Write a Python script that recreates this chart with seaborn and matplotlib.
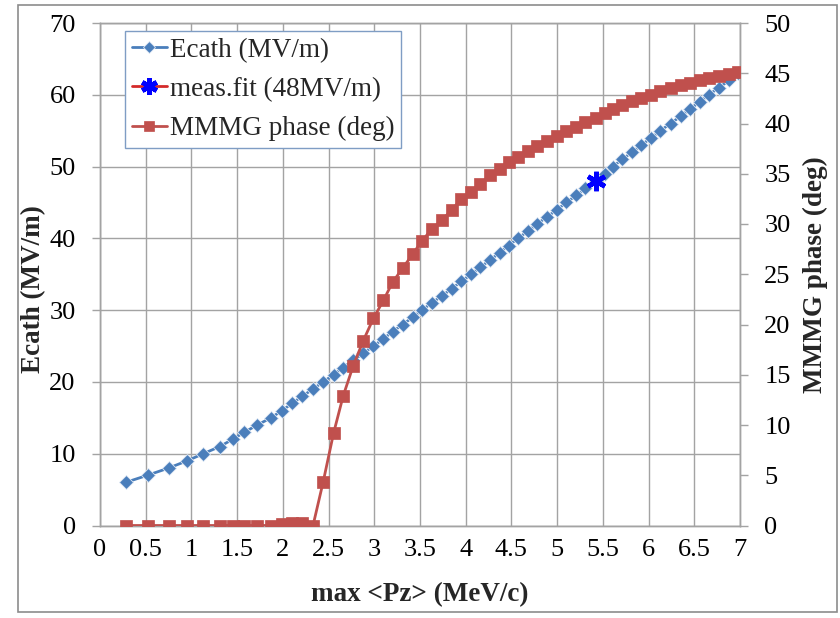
import matplotlib
matplotlib.use("Agg")
import matplotlib.pyplot as plt
import seaborn as sns
import pandas as pd
from matplotlib.patches import Rectangle

# ---- data ----
pz = [0.28, 0.52, 0.75, 0.95, 1.13, 1.31, 1.45, 1.58, 1.72, 1.87,
      1.99, 2.10, 2.21, 2.33, 2.44, 2.555, 2.66, 2.77, 2.88, 2.99,
      3.10, 3.20, 3.31, 3.42, 3.52, 3.63, 3.74, 3.85, 3.95, 4.06,
      4.16, 4.27, 4.37, 4.47, 4.57, 4.68, 4.78, 4.89, 5.00, 5.10,
      5.21, 5.31, 5.42, 5.52, 5.61, 5.71, 5.82, 5.92, 6.03, 6.13,
      6.24, 6.35, 6.45, 6.56, 6.66, 6.77, 6.88, 6.98]
ecath = [6, 7, 8, 9, 10, 11, 12, 13, 14, 15,
         16, 17, 18, 19, 20, 21, 22, 23, 24, 25,
         26, 27, 28, 29, 30, 31, 32, 33, 34, 35,
         36, 37, 38, 39, 40, 41, 42, 43, 44, 45,
         46, 47, 48, 49, 50, 51, 52, 53, 54, 55,
         56, 57, 58, 59, 60, 61, 62, 63]
phase = [0, 0, 0, 0, 0, 0, 0, 0, 0, 0,
         0.1, 0.2, 0.2, 0, 4.3, 9.2, 12.9, 15.9, 18.4, 20.6,
         22.4, 24.2, 25.6, 27.0, 28.3, 29.5, 30.4, 31.4, 32.5, 33.2,
         34.0, 34.9, 35.5, 36.2, 36.7, 37.3, 37.8, 38.3, 38.8, 39.3,
         39.7, 40.1, 40.5, 41.0, 41.4, 41.8, 42.2, 42.5, 42.8, 43.2,
         43.5, 43.8, 44.0, 44.3, 44.5, 44.7, 44.9, 45.1]
fit_pz = [5.43]
fit_ecath = [48]

x_ticks = [0, 0.5, 1, 1.5, 2, 2.5, 3, 3.5, 4, 4.5, 5, 5.5, 6, 6.5, 7]
x_ticklabels = ["0", "0.5", "1", "1.5", "2", "2.5", "3", "3.5", "4", "4.5",
                "5", "5.5", "6", "6.5", "7"]
left_ticks = [0, 10, 20, 30, 40, 50, 60, 70]
right_ticks = [0, 5, 10, 15, 20, 25, 30, 35, 40, 45, 50]

lbl_ecath = "Ecath (MV/m)"
lbl_fit = "meas.fit (48MV/m)"
lbl_phase = "MMMG phase (deg)"

df = pd.DataFrame({"pz": pz, "ecath": ecath, "phase": phase})
df_fit = pd.DataFrame({"pz": fit_pz, "ecath": fit_ecath})

# ---- style ----
sns.set_style("white")
plt.rcParams["font.family"] = ["Liberation Serif", "DejaVu Serif"]

BLUE = "#4a7ebb"
RED = "#c0504d"
FITRED = "#d42a2a"
GRID = "#a3a3a3"
TFS = 19
LFS = 19.5

W, H = 840, 618
fig = plt.figure(figsize=(W / 100, H / 100), dpi=100)
ax_l, ax_r, ax_t, ax_b = 100, 740, 23, 525.5
ax = fig.add_axes([ax_l / W, 1 - ax_b / H, (ax_r - ax_l) / W, (ax_b - ax_t) / H])
ax2 = ax.twinx()

sns.lineplot(data=df, x="pz", y="ecath", ax=ax, color=BLUE, lw=2.0,
             marker="D", markersize=7.2, markeredgecolor="#dfe8f4",
             markeredgewidth=0.6, estimator=None, sort=False,
             label=lbl_ecath, legend=False, zorder=3)
sns.lineplot(data=df_fit, x="pz", y="ecath", ax=ax, color=FITRED, lw=2.0,
             marker=(6, 2, 0), markersize=14, markeredgecolor="#0000ff",
             markerfacecolor="#0000ff", markeredgewidth=3.4,
             estimator=None, label=lbl_fit, legend=False, zorder=4)
sns.lineplot(data=df, x="pz", y="phase", ax=ax2, color=RED, lw=2.0,
             marker="s", markersize=8.6, markeredgecolor=RED,
             markeredgewidth=0.5, estimator=None, sort=False,
             label=lbl_phase, legend=False, zorder=3)

ax.set_xlim(0, 7)
ax.set_ylim(0, 70)
ax2.set_ylim(0, 50)
ax.set_xticks(x_ticks)
ax.set_xticklabels(x_ticklabels)
ax.set_yticks(left_ticks)
ax2.set_yticks(right_ticks)

ax.grid(True, color=GRID, lw=1.0)
ax.set_axisbelow(True)
ax2.grid(False)

for a in (ax, ax2):
    for s in a.spines.values():
        s.set_color(GRID)
        s.set_linewidth(1.0)
    a.tick_params(axis="both", which="major", labelsize=TFS, colors="black",
                  length=5.5, width=1.0, direction="out")
    a.tick_params(axis="both", color=GRID)
ax.tick_params(axis="y", pad=12)
ax.tick_params(axis="x", pad=4)
ax2.tick_params(axis="y", pad=12)

ax.set_xlabel("max <Pz> (MeV/c)", fontsize=LFS, fontweight="bold")
ax.set_ylabel(lbl_ecath, fontsize=LFS, fontweight="bold")
ax2.set_ylabel(lbl_phase, fontsize=LFS, fontweight="bold")
ax.xaxis.set_label_coords(0.5, -0.112)
ax.yaxis.set_label_coords(-0.084, 0.47)
ax2.yaxis.set_label_coords(1.098, 0.50)

# ---- legend ----
h1, l1 = ax.get_legend_handles_labels()
h2, l2 = ax2.get_legend_handles_labels()
leg = ax2.legend(h1 + h2, l1 + l2, loc="upper left",
                 bbox_to_anchor=(125 / W, 1 - 31 / H),
                 bbox_transform=fig.transFigure, borderaxespad=0,
                 fontsize=LFS, frameon=True, fancybox=False, framealpha=1,
                 edgecolor="#7f9dc4", handlelength=1.3, handletextpad=0.1,
                 labelspacing=0.52, borderpad=0.25, markerscale=0.85)
leg.get_frame().set_linewidth(1.0)

# ---- outer border ----
fig.patches.append(Rectangle((18 / W, 1 - 612 / H), (837 - 18) / W, (612 - 5) / H,
                             transform=fig.transFigure, fill=False,
                             edgecolor="#8c8c8c", lw=1.2))

fig.savefig("out.png", dpi=100)
